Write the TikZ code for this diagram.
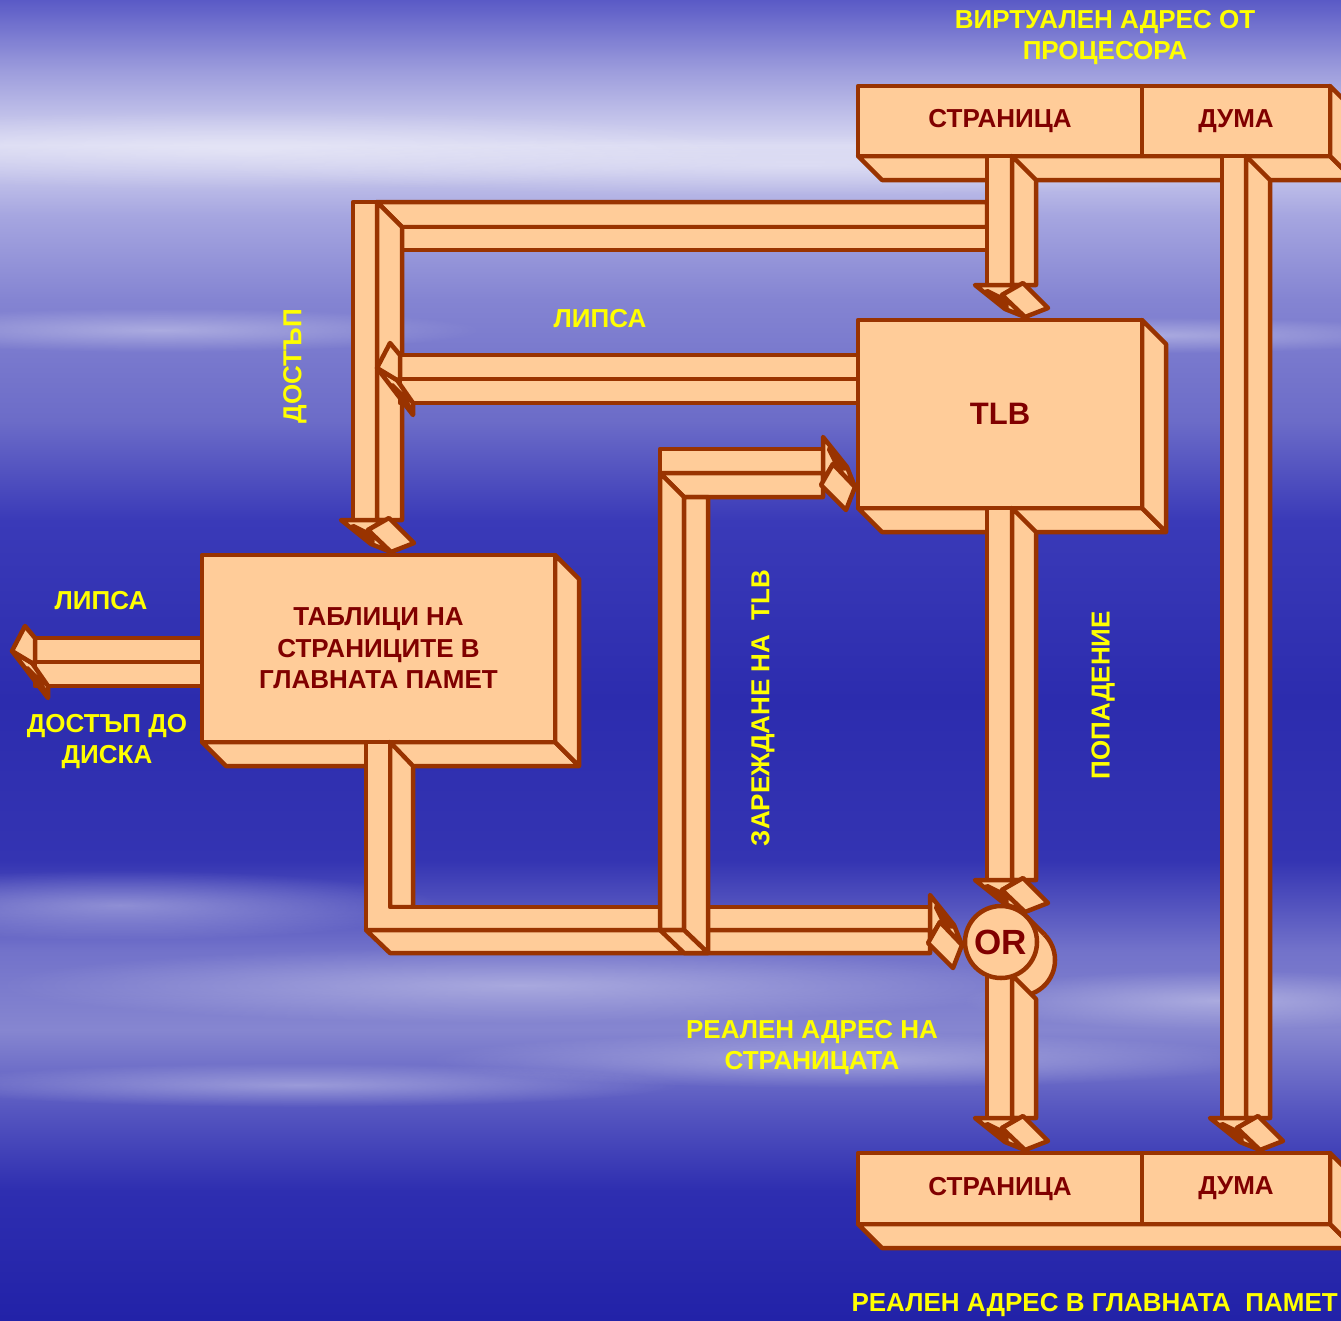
\documentclass[tikz,border=0pt]{standalone}
\usepackage{fontspec}
\setmainfont{Liberation Sans}
\usetikzlibrary{fadings}
\tikzfading[name=softcloud, inner color=transparent!0, outer color=transparent!100]
\definecolor{peach}{HTML}{FFCC99}
\definecolor{rim}{HTML}{993300}
\definecolor{ink}{HTML}{800000}
\definecolor{lab}{HTML}{FFFF00}
\definecolor{bgA}{HTML}{5A5AC6}
\definecolor{bgB}{HTML}{9C9CDC}
\definecolor{bgC}{HTML}{D8D8F2}
\definecolor{bgD}{HTML}{A6A6E0}
\definecolor{bgE}{HTML}{8484D2}
\definecolor{bgF}{HTML}{6C6CC8}
\definecolor{bgG}{HTML}{3A3AB8}
\definecolor{bgH}{HTML}{2C2CAE}
\definecolor{bgI}{HTML}{3434B2}
\definecolor{bgJ}{HTML}{7272CA}
\definecolor{bgK}{HTML}{8686D0}
\definecolor{bgL}{HTML}{5656C0}
\definecolor{bgM}{HTML}{2E2EB0}
\definecolor{bgN}{HTML}{2222A8}
\def\PD#1#2{(\ox+#1,\oy+#2)}
\def\PR#1#2{(\ox+#2,\oy+#1)}
\newcommand\ArrowHead{%
 \path[pipe,even odd rule] \HP{-12}{0} -- \HP{32}{0} -- \HP{15}{10} -- \HP{38}{32} -- \HP{18}{24} -- cycle
   \HP{0}{6} -- \HP{12}{12} -- \HP{20}{21} -- \HP{8}{14} -- cycle;
 \path[pipe] \HP{15}{10} -- \HP{36}{-2} -- \HP{61}{23} -- \HP{38}{32} -- cycle;}
\newcommand\DownHead[2]{\def\ox{#1}\def\oy{#2}\let\HP\PD\ArrowHead}
\newcommand\RightHead[2]{\def\ox{#1}\def\oy{#2}\let\HP\PR\ArrowHead}
\newcommand\LeftHead[2]{\def\ox{#1}\def\oy{#2}%
 \path[pipe,even odd rule] (\ox-23,\oy+13) -- (\ox+13,\oy+60) -- (\ox+13,\oy+48) -- (\ox-3,\oy+25) -- cycle
   (\ox-8,\oy+30) -- (\ox+4,\oy+42) -- (\ox+10,\oy+54) -- (\ox-3,\oy+38) -- cycle;
 \path[pipe] (\ox,\oy) -- (\ox-10,\oy-12) -- (\ox-23,\oy+13) -- (\ox-3,\oy+25) -- (\ox,\oy+24) -- cycle;}
\begin{document}
\begin{tikzpicture}[x=1pt,y=-1pt,
 pipe/.style={fill=peach,draw=rim,line width=4.5pt,line join=round},
 face/.style={pipe,inner sep=0pt,outer sep=0pt,anchor=north west,text=ink,
   font=\fontsize{26}{31.5}\selectfont\bfseries,align=center},
 lbl/.style={text=lab,font=\fontsize{26}{31}\selectfont\bfseries,align=center,inner sep=0pt},
 cloud/.style={white,opacity=0.35,path fading=softcloud}]
\useasboundingbox (0,0) rectangle (1341,1320);
\clip (0,0) rectangle (1341,1320);
% background
\shade[top color=bgA,bottom color=bgB] (0,0) rectangle (1341,70);
\shade[top color=bgB,bottom color=bgC] (0,70) rectangle (1341,145);
\shade[top color=bgC,bottom color=bgD] (0,145) rectangle (1341,215);
\shade[top color=bgD,bottom color=bgE] (0,215) rectangle (1341,300);
\shade[top color=bgE,bottom color=bgF] (0,300) rectangle (1341,420);
\shade[top color=bgF,bottom color=bgG] (0,420) rectangle (1341,520);
\shade[top color=bgG,bottom color=bgH] (0,520) rectangle (1341,700);
\shade[top color=bgH,bottom color=bgI] (0,700) rectangle (1341,860);
\shade[top color=bgI,bottom color=bgJ] (0,860) rectangle (1341,950);
\shade[top color=bgJ,bottom color=bgK] (0,950) rectangle (1341,1030);
\shade[top color=bgK,bottom color=bgL] (0,1030) rectangle (1341,1110);
\shade[top color=bgL,bottom color=bgM] (0,1110) rectangle (1341,1190);
\shade[top color=bgM,bottom color=bgN] (0,1190) rectangle (1341,1320);
\fill[cloud] (250,150) ellipse [x radius=520, y radius=40];
\fill[cloud] (800,165) ellipse [x radius=600, y radius=30];
\fill[cloud] (160,330) ellipse [x radius=320, y radius=22];
\fill[cloud] (1150,335) ellipse [x radius=300, y radius=18];
\fill[cloud] (120,905) ellipse [x radius=320, y radius=35];
\fill[cloud] (520,985) ellipse [x radius=520, y radius=38];
\fill[cloud] (850,1060) ellipse [x radius=420, y radius=28];
\fill[cloud] (1220,1000) ellipse [x radius=260, y radius=30];
\fill[cloud] (300,1085) ellipse [x radius=380, y radius=22];
% top address bar
\path[pipe] (858,156) -- (1330,156) -- (1354,180) -- (882,180) -- cycle;
\path[pipe] (1330,86) -- (1354,110) -- (1354,180) -- (1330,156) -- cycle;
\node[face,minimum width=284pt,minimum height=70pt] (vpage) at (858,86) {СТРАНИЦА};
\node[face,minimum width=188pt,minimum height=70pt] (vword) at (1142,86) {ДУМА};
% bottom address bar
\path[pipe] (858,1224) -- (1330,1224) -- (1354,1248) -- (882,1248) -- cycle;
\path[pipe] (1330,1153) -- (1354,1177) -- (1354,1248) -- (1330,1224) -- cycle;
\node[face,minimum width=284pt,minimum height=71pt] (rpage) at (858,1153) {СТРАНИЦА};
\node[face,minimum width=188pt,minimum height=71pt] (rword) at (1142,1153) {ДУМА};
% TLB box
\path[pipe] (858,508) -- (1142,508) -- (1166,532) -- (882,532) -- cycle;
\path[pipe] (1142,320) -- (1166,344) -- (1166,532) -- (1142,508) -- cycle;
\node[face,minimum width=284pt,minimum height=188pt,font=\fontsize{31}{31}\selectfont\bfseries] (tlb) at (858,320) {TLB};
% page tables box
\path[pipe] (202,742) -- (555,742) -- (579,766) -- (226,766) -- cycle;
\path[pipe] (555,555) -- (579,579) -- (579,766) -- (555,742) -- cycle;
\node[face,minimum width=353pt,minimum height=187pt] (ptab) at (202,555) {ТАБЛИЦИ НА\\СТРАНИЦИТЕ В\\ГЛАВНАТА ПАМЕТ};
% P2: page -> page tables
\path[pipe] (377,202) -- (987,202) -- (987,227) -- (402,227) -- cycle;
\path[pipe] (402,227) rectangle (987,250);
\path[pipe] (353,202) rectangle (377,520);
\path[pipe] (377,202) -- (402,227) -- (402,520) -- (377,520) -- cycle;
\DownHead{353}{520}
% P1: page -> TLB
\path[pipe] (987,156) rectangle (1012,285);
\path[pipe] (1012,156) -- (1036,180) -- (1036,285) -- (1012,285) -- cycle;
\DownHead{987}{285}
% P3: TLB miss -> left
\path[pipe] (400,355) rectangle (858,379);
\path[pipe] (400,379) rectangle (858,403);
\LeftHead{400}{355}
% P4: page tables -> disk
\path[pipe] (35,638) rectangle (202,662);
\path[pipe] (35,662) rectangle (202,686);
\LeftHead{35}{638}
% P5: page tables -> OR
\path[pipe] (390,742) -- (413,766) -- (413,907) -- (390,907) -- cycle;
\path[pipe] (366,742) -- (390,742) -- (390,907) -- (930,907) -- (930,930) -- (366,930) -- cycle;
\path[pipe] (366,930) -- (930,930) -- (930,953) -- (390,953) -- cycle;
% P6: TLB load
\path[pipe] (660,449) rectangle (823,473);
\path[pipe] (660,473) -- (823,473) -- (823,497) -- (684,497) -- cycle;
\path[pipe] (660,473) -- (684,497) -- (684,930) -- (660,930) -- cycle;
\path[pipe] (684,497) -- (708,497) -- (708,953) -- (684,930) -- cycle;
\path[pipe] (660,930) -- (684,930) -- (708,953) -- (684,953) -- cycle;
\RightHead{823}{449}
% P7: TLB hit -> OR
\path[pipe] (987,508) rectangle (1012,880);
\path[pipe] (1012,508) -- (1036,532) -- (1036,880) -- (1012,880) -- cycle;
% word pipe
\path[pipe] (1222,156) rectangle (1246,1118);
\path[pipe] (1246,156) -- (1270,180) -- (1270,1118) -- (1246,1118) -- cycle;
\DownHead{1222}{1118}
% OR gate back
\path[pipe] (1019,960) circle [radius=36];
\fill[peach] (1026.5,916.5) -- (1044.5,934.5) -- (993.5,985.5) -- (975.5,967.5) -- cycle;
\draw[rim,line width=4.5pt] (1026.5,916.5) -- (1044.5,934.5);
% P8: OR -> real page
\path[pipe] (987,960) rectangle (1012,1118);
\path[pipe] (1012,975) -- (1036,999) -- (1036,1118) -- (1012,1118) -- cycle;
\DownHead{987}{1118}
\node[pipe,circle,minimum size=72pt,inner sep=0pt,text=ink,font=\fontsize{35}{35}\selectfont\bfseries] (or) at (1001,942) {OR};
\DownHead{987}{880}
\RightHead{930}{907}
% labels
\node[lbl] (virt) at (1105,38) {ВИРТУАЛЕН АДРЕС ОТ\\ПРОЦЕСОРА};
\node[lbl] (miss1) at (600,319) {ЛИПСА};
\node[lbl,rotate=90] (acc) at (295,366) {ДОСТЪП};
\node[lbl] (miss2) at (101,601) {ЛИПСА};
\node[lbl] (disk) at (107,742) {ДОСТЪП ДО\\ДИСКА};
\node[lbl,rotate=90] (load) at (763,708) {ЗАРЕЖДАНЕ НА~ TLB};
\node[lbl,rotate=90] (hit) at (1103,695) {ПОПАДЕНИЕ};
\node[lbl] (rpg) at (812,1047) {РЕАЛЕН АДРЕС НА\\СТРАНИЦАТА};
\node[lbl,anchor=east] (real) at (1338,1305) {РЕАЛЕН АДРЕС В ГЛАВНАТА~ ПАМЕТ};
\end{tikzpicture}
\end{document}
